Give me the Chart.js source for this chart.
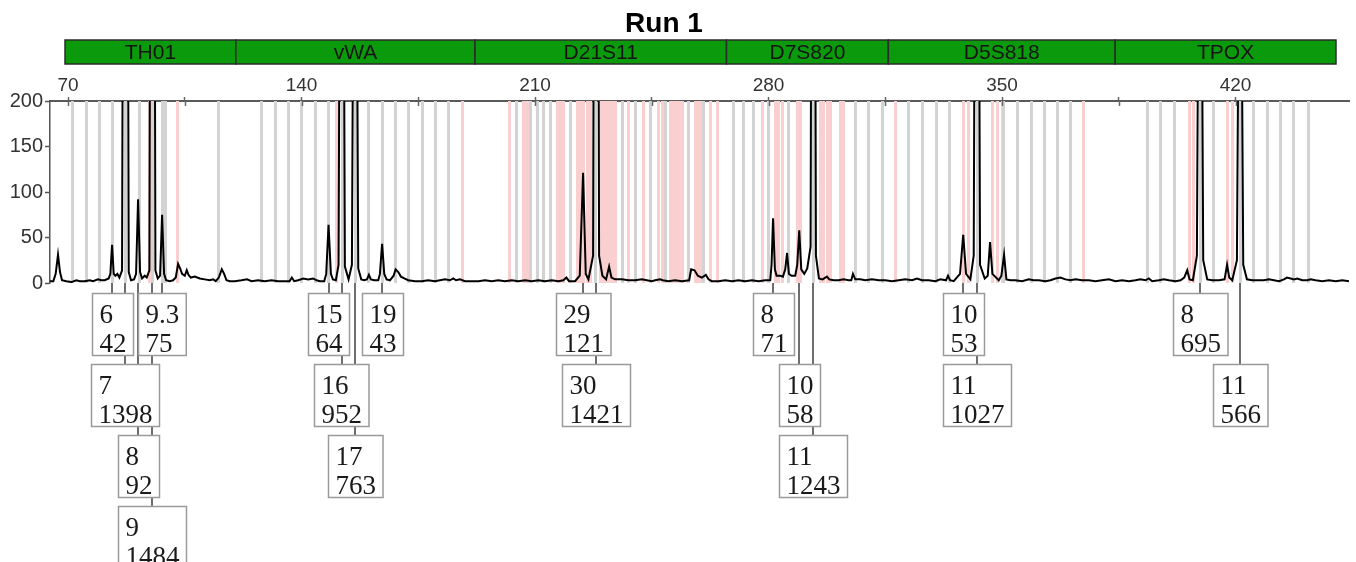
<!DOCTYPE html>
<html>
<head>
<meta charset="utf-8">
<script src="https://cdn.jsdelivr.net/npm/chart.js@4.4.0/dist/chart.umd.min.js"></script>
<style>
  html, body { margin: 0; padding: 0; background: #fff; }
  canvas { display: block; }
</style>
</head>
<body>
<canvas id="epg" width="1356" height="562"></canvas>
<script>
// ---- run / marker panel ----
const runTitle = 'Run 1';
const lociNames = ['TH01', 'vWA', 'D21S11', 'D7S820', 'D5S818', 'TPOX'];
const lociStart = [69.1, 120.3, 192.0, 267.4, 315.9, 383.9];
const lociEnd   = [120.3, 192.0, 267.4, 315.9, 383.9, 450.1];

// ---- axis ranges (size in bp, height in RFU) ----
const sizeRange = [64.6, 454.0];
const sizeStep = 35;
const sizeLabelStep = 70;
const rfuRange = [0, 200];
const rfuStep = 25;
const rfuLabelStep = 50;

// ---- allele calls: name, size (bp), peak height (RFU) ----
const alleleNames   = ['6', '7', '8', '9', '9.3', '15', '16', '17', '19', '29', '30', '8', '10', '11', '10', '11', '8', '11'];
const alleleSizes   = [83.2, 87.2, 91.0, 95.3, 98.2, 148.1, 152.05, 156.05, 164.15, 224.4, 228.3, 281.35, 289.2, 293.4, 338.35, 342.45, 409.35, 421.35];
const alleleHeights = [42, 1398, 92, 1484, 75, 64, 952, 763, 43, 121, 1421, 71, 58, 1243, 53, 1027, 695, 566];

// ---- allelic ladder bins (bp) ----
const binsGray = [71.3, 75.3, 79.3, 83.2, 87.2, 91.3, 95.3, 98.3, 99.2, 114.9,
  127.9, 131.9, 135.9, 139.9, 144.0, 148.0, 152.0, 156.0, 160.0, 164.0, 168.0, 172.0, 176.0, 180.0, 184.0,
  204.2, 208.5, 210.5, 212.4, 214.5, 220.5, 228.0, 236.0, 240.0, 244.5, 249.0, 255.9, 260.4,
  269.4, 272.4, 275.4, 279.9, 285.9, 293.4, 305.9, 309.9, 313.9,
  321.9, 325.9, 330.2, 334.2, 342.5, 350.4, 354.6, 358.6, 362.6, 366.6, 370.4,
  393.4, 397.4, 401.4, 409.4, 413.3, 421.4, 425.3, 429.4, 433.3, 437.3, 441.8];
const binsPink = [94.4, 102.6, 150.3, 188.0,
  202.2, 206.4, 207.3, 207.9, 216.6, 217.5, 218.4, 222.6, 223.5, 224.4, 225.6, 226.5,
  229.5, 230.4, 231.3, 232.2, 233.1, 234.0, 237.9, 242.4, 246.9, 248.1,
  250.5, 251.4, 252.3, 253.2, 254.1, 258.0, 258.9, 259.5, 262.5, 264.6,
  278.0, 281.9, 282.9, 283.9, 288.5, 289.4, 295.4, 296.4, 297.4, 298.3, 301.4, 302.4, 317.9,
  338.4, 339.9, 346.9, 348.4, 349.9, 374.4,
  405.9, 407.3, 417.4, 418.9];

// ---- signal between the called alleles: [size bp, RFU] ----
const traceSignal = [
  [64.6,2],[65.6,2],[66.3,10],[67.0,31],[67.6,12],[68.2,3],[69.5,2],[71.0,1],[72.5,3],[73.5,2],[75.0,2],
  [76.5,3],[77.5,2],[79.0,4],[80.0,3],[81.0,3],[82.2,5],[82.7,10],
  [83.7,10],[84.2,8],[84.8,10],[85.4,6],[86.2,14],
  [88.2,12],[88.9,3],[89.8,4],[90.4,10],
  [91.6,12],[92.2,5],[93.0,8],[93.6,6],[94.4,14],
  [96.2,14],[96.9,5],[97.6,8],
  [98.8,10],[99.4,3],[100.5,2],[101.5,3],[102.3,6],[103.0,21],[103.6,16],[104.2,10],[105.0,8],[105.6,14],
  [106.1,9],[106.8,6],[108.0,7],[109.5,5],[111.0,4],[112.5,3],[113.5,4],[114.3,2],[115.2,6],[116.1,15],
  [116.8,10],[117.5,3],[118.5,2],[120,2],[122,3],[123.7,4],[125,2],[127,3],[129,2],[131,3],[133,2],[135,2],
  [136.4,2],[137.1,6],[137.8,2],[139,3],[140.5,5],[142,4],[143.5,5],[144.5,3],[145.5,2],[146.8,2],[147.4,10],
  [148.8,10],[149.4,4],[150.3,3],[151.1,20],
  [153.0,18],[154.1,4],[155.1,20],
  [157.0,16],[157.9,4],[158.8,3],[159.6,4],[160.2,9],[160.8,4],[161.8,3],[163.0,3],[163.5,10],
  [164.8,10],[165.5,4],[166.5,3],[167.6,8],[168.2,15],[169.0,12],[169.8,7],[170.8,5],[172,3],[174,2],[176,2],
  [178,3],[180,2],[181.5,3],[183,4],[184.5,3],[185.5,5],[186.3,3],[187.5,4],[189,2],[191,2],[193,2],[195,3],
  [197,2],[199,3],[201,2],[203,3],[205,2],[207,3],[209,2],[211,3],[213,2],[215,3],[217,2],[218.5,3],[219.4,6],
  [220.2,2],[222,2],[223.4,8],
  [225.2,10],[226,4],[227.4,30],
  [229.2,30],[230.2,8],[231.3,4],[232.2,18],[232.9,6],[234,4],[236,4],[238,3],[240,3],[242,4],[243.5,3],
  [245,2],[246,3],[247.5,4],[248.3,3],[250,2],[252,3],[254,2],[256.2,3],[256.8,15],[257.8,14],[258.8,8],
  [260,6],[261.2,9],[262,4],[263,2],[265,2],[267,3],[269,2],[271,3],[273,2],[275,3],[277,2],[279,3],
  [280.5,3],[280.9,20],
  [281.9,15],[282.4,8],[283.5,8],[284.3,7],[285.0,15],[285.55,33],[286.1,10],[286.9,8],[288.0,8],[288.6,20],
  [289.8,15],[290.7,10],[291.6,16],[292.6,40],
  [294.2,30],[295.1,5],[296.2,4],[297.5,7],[298.2,4],[299.5,3],[301,3],[302.5,4],[304,3],[304.8,3],[305.3,10],
  [306,4],[307.5,4],[309,3],[311,4],[313,3],[315,3],[317,2],[319,3],[321,4],[323,3],[324.5,5],[326,3],[328,3],
  [330,2],[331.5,4],[333.2,3],[333.8,8],[334.4,3],[335.5,2],[337.4,10],
  [339.2,10],[340.5,4],[341.5,30],
  [343.4,20],[344.8,5],[345.7,8],[346.4,45],[347.1,10],[349.0,3],[349.8,8],[350.6,31],[351.3,4],[352.5,3],
  [354,3],[356,2],[358,4],[359.5,3],[361,3],[363,2],[364.5,3],[366,5],[367.5,6],[369,4],[370.5,3],[372,4],
  [374,3],[376,3],[378,2],[380,3],[382,4],[384,2],[386,3],[388,2],[390,3],[391.5,4],[393,3],[394,5],[395,2],
  [397,3],[398.5,4],[400,3],[402,2],[403.5,3],[404.6,6],[405.5,14],[406.2,4],[407.2,3],[408.4,30],
  [410.3,25],[411.5,4],[413,3],[415,3],[416.7,4],[417.45,20],[418.1,6],[419,3],[420.4,25],
  [422.3,20],[423.4,4],[425,3],[427,3],[428.5,3],[430,4],[431.5,3],[433,2],[434.5,4],[435.4,6],[436.5,5],
  [437.5,4],[438.5,5],[440,3],[441.5,3],[442.5,4],[444,3],[446,2],[448,3],[450,2],[452,3],[454,2]
];

// full trace: background signal plus the apex of every called allele
const tracePoints = traceSignal.map(p => ({ x: p[0], y: p[1] }))
  .concat(alleleSizes.map((s, i) => ({ x: s, y: alleleHeights[i] })))
  .sort((a, b) => a.x - b.x);

const SANS = '"Liberation Sans", Arial, sans-serif';
const SERIF = '"Liberation Serif", "Times New Roman", serif';

const panelPlugin = {
  id: 'panel',
  beforeDatasetsDraw(chart) {
    const { ctx, chartArea: a, scales: { x } } = chart;
    ctx.save();
    ctx.beginPath();
    ctx.rect(a.left, a.top, a.right - a.left, a.bottom - a.top);
    ctx.clip();
    ctx.lineWidth = 3;
    const drawBins = (list, color) => {
      ctx.strokeStyle = color;
      list.forEach(v => {
        const px = Math.round(x.getPixelForValue(v)) + 0.5;
        ctx.beginPath();
        ctx.moveTo(px, a.top);
        ctx.lineTo(px, a.bottom);
        ctx.stroke();
      });
    };
    drawBins(binsPink, '#f9cfcf');
    drawBins(binsGray, '#d3d3d3');
    ctx.restore();
  },
  afterDraw(chart) {
    const { ctx, chartArea: a, scales: { x } } = chart;
    ctx.save();

    // title
    ctx.fillStyle = '#000';
    ctx.font = 'bold 28px ' + SANS;
    ctx.textAlign = 'center';
    ctx.textBaseline = 'alphabetic';
    ctx.fillText(runTitle, 664, 32);

    // marker band
    const bandTop = 40, bandH = 24;
    lociNames.forEach((name, i) => {
      const x0 = x.getPixelForValue(lociStart[i]);
      const x1 = x.getPixelForValue(lociEnd[i]);
      ctx.fillStyle = '#0b9a0b';
      ctx.fillRect(x0, bandTop, x1 - x0, bandH);
      ctx.strokeStyle = '#2b2b2b';
      ctx.lineWidth = 1.5;
      ctx.strokeRect(x0, bandTop, x1 - x0, bandH);
      ctx.fillStyle = '#141414';
      ctx.font = '21px ' + SANS;
      ctx.textAlign = 'center';
      ctx.textBaseline = 'middle';
      ctx.fillText(name, (x0 + x1) / 2, bandTop + bandH / 2 + 1);
    });

    // inner part of the size-axis ticks
    ctx.strokeStyle = '#666';
    ctx.lineWidth = 1.5;
    x.ticks.forEach(t => {
      const px = Math.round(x.getPixelForValue(t.value)) + 0.5;
      ctx.beginPath();
      ctx.moveTo(px, a.top);
      ctx.lineTo(px, a.top + 5);
      ctx.stroke();
    });

    // allele call boxes, packed into rows below the trace
    const rowTop0 = a.bottom + 10, rowPitch = 71, boxH = 62, gap = 3;
    ctx.font = '27px ' + SERIF;
    const boxes = alleleNames.map((name, i) => {
      const cx = x.getPixelForValue(alleleSizes[i]);
      const l1 = name, l2 = String(alleleHeights[i]);
      const w = Math.max(ctx.measureText(l1).width, ctx.measureText(l2).width) + 14;
      return { cx, l1, l2, w, left: cx - w / 2 };
    });
    const rowRight = [];
    boxes.forEach(b => {
      let r = 0;
      while (rowRight[r] !== undefined && b.left < rowRight[r] + gap) r++;
      rowRight[r] = b.left + b.w;
      b.top = rowTop0 + r * rowPitch;
    });

    // connectors first, boxes on top
    ctx.strokeStyle = '#6e6e6e';
    ctx.lineWidth = 2;
    boxes.forEach(b => {
      const px = Math.round(b.cx);
      ctx.beginPath();
      ctx.moveTo(px, a.bottom);
      ctx.lineTo(px, b.top);
      ctx.stroke();
    });
    boxes.forEach(b => {
      const l = Math.round(b.left) + 0.5, t = Math.round(b.top) + 0.5;
      ctx.fillStyle = '#fff';
      ctx.fillRect(l, t, b.w, boxH);
      ctx.strokeStyle = '#9a9a9a';
      ctx.lineWidth = 1.5;
      ctx.strokeRect(l, t, b.w, boxH);
      ctx.fillStyle = '#1a1a1a';
      ctx.textAlign = 'left';
      ctx.textBaseline = 'alphabetic';
      ctx.fillText(b.l1, l + 7, t + 29);
      ctx.fillText(b.l2, l + 7, t + 58);
    });

    ctx.restore();
  }
};

new Chart(document.getElementById('epg'), {
  type: 'line',
  data: {
    datasets: [{
      data: tracePoints,
      borderColor: '#000',
      borderWidth: 2,
      pointRadius: 0,
      tension: 0,
      fill: false
    }]
  },
  options: {
    responsive: false,
    animation: false,
    devicePixelRatio: 1,
    layout: { padding: { top: 61, right: 7, bottom: 279, left: 0 } },
    plugins: {
      legend: { display: false },
      tooltip: { enabled: false },
      title: { display: false }
    },
    scales: {
      x: {
        type: 'linear',
        position: 'top',
        min: sizeRange[0],
        max: sizeRange[1],
        afterBuildTicks: s => {
          const ticks = [];
          for (let v = Math.ceil(s.min / sizeStep) * sizeStep; v <= s.max; v += sizeStep) ticks.push({ value: v });
          s.ticks = ticks;
        },
        afterFit: s => { s.height = 40; },
        ticks: {
          autoSkip: false,
          maxRotation: 0,
          padding: 0,
          color: '#333',
          font: { family: SANS, size: 19 },
          callback: v => (v % sizeLabelStep === 0 ? String(v) : '')
        },
        grid: { drawOnChartArea: false, tickLength: 4, color: '#666', tickWidth: 1.5 },
        border: { color: '#5a5a5a', width: 2 }
      },
      y: {
        min: rfuRange[0],
        max: rfuRange[1],
        afterFit: s => { s.width = 50; },
        ticks: {
          stepSize: rfuStep,
          padding: 2,
          color: '#333',
          font: { family: SANS, size: 20 },
          callback: v => (v % rfuLabelStep === 0 ? String(v) : '')
        },
        grid: { drawOnChartArea: false, tickLength: 5, color: '#555', tickWidth: 1.5 },
        border: { color: '#555', width: 1.5 }
      }
    }
  },
  plugins: [panelPlugin]
});
</script>
</body>
</html>
